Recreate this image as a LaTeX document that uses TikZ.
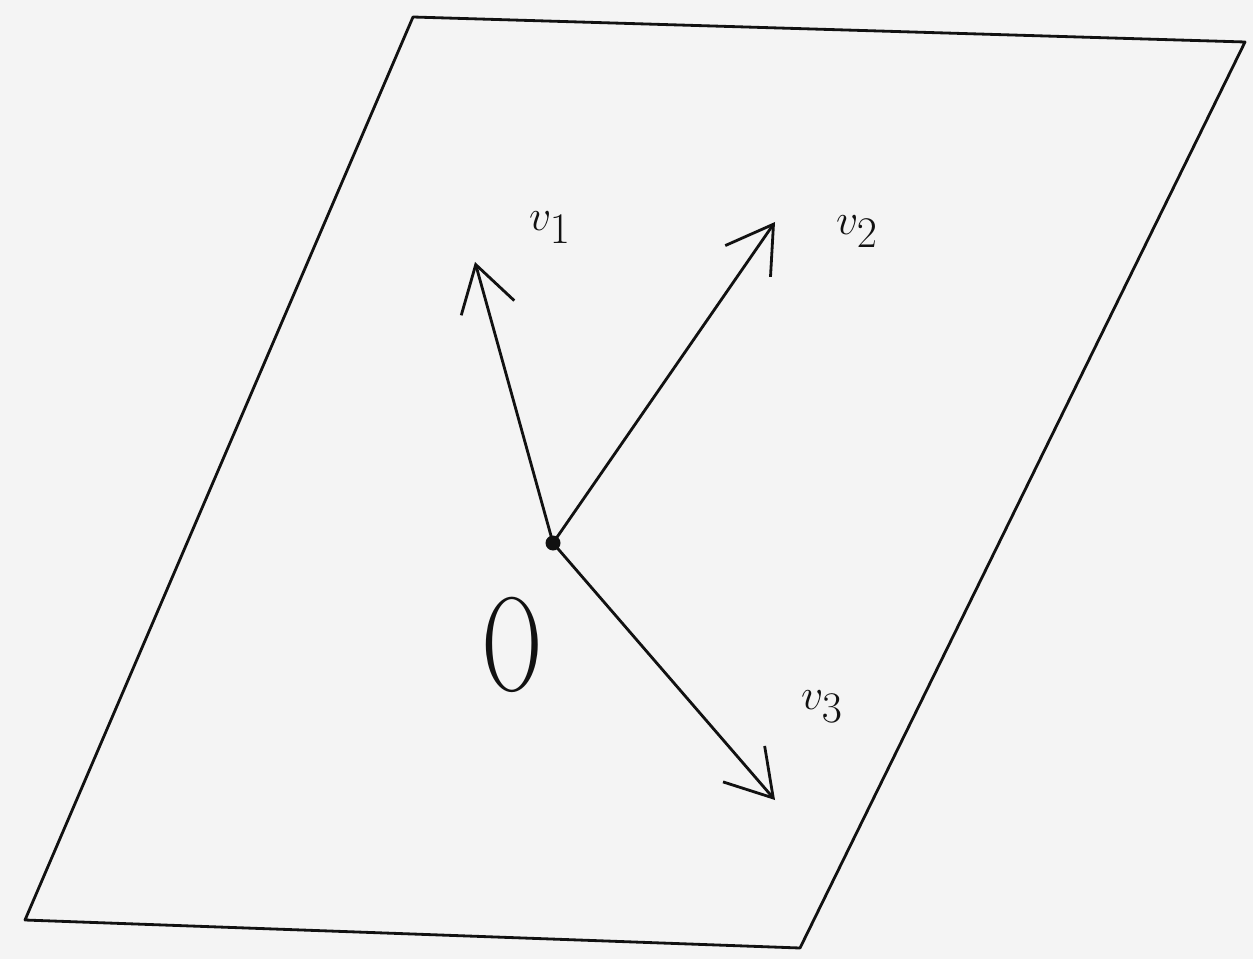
\documentclass[tikz,border=0pt]{standalone}
\usetikzlibrary{arrows.meta}
\definecolor{bg}{HTML}{F4F4F4}
\definecolor{ink}{HTML}{111111}
\tikzset{
  edge/.style={draw=ink, line width=1.6pt, line join=round, line cap=round},
  vec/.style={edge, -{Straight Barb[length=0.9cm, width=1.1cm, line width=1.6pt]}},
  lbl/.style={text=ink, inner sep=0pt, font=\fontsize{44}{52}\selectfont},
}
\begin{document}
\begin{tikzpicture}[x=0.02cm, y=-0.02cm]
  \fill[bg] (0,0) rectangle (1253,959);
  \useasboundingbox (0,0) rectangle (1253,959);
  \coordinate (tl) at (413,17);
  \coordinate (tr) at (1245,42);
  \coordinate (br) at (800,948);
  \coordinate (bl) at (25,920);
  \draw[edge] (tl) -- (tr) -- (br) -- (bl) -- cycle;
  \node[circle, fill=ink, inner sep=0pt, minimum size=0.3cm] (o) at (553,543) {};
  \coordinate (t1) at (475,262);
  \coordinate (t2) at (775,222);
  \coordinate (t3) at (775,800);
  \draw[vec] (o.center) -- (t1);
  \draw[vec] (o.center) -- (t2);
  \draw[vec] (o.center) -- (t3);
  \node[lbl] (l1) at (550,228) {$v_1$};
  \node[lbl] (l2) at (857,232) {$v_2$};
  \node[lbl] (l3) at (822,707) {$v_3$};
  \node[lbl, font=\fontsize{76}{84}\selectfont] (lo) at (512,645) {\scalebox{0.62}[1]{O}};
\end{tikzpicture}
\end{document}
